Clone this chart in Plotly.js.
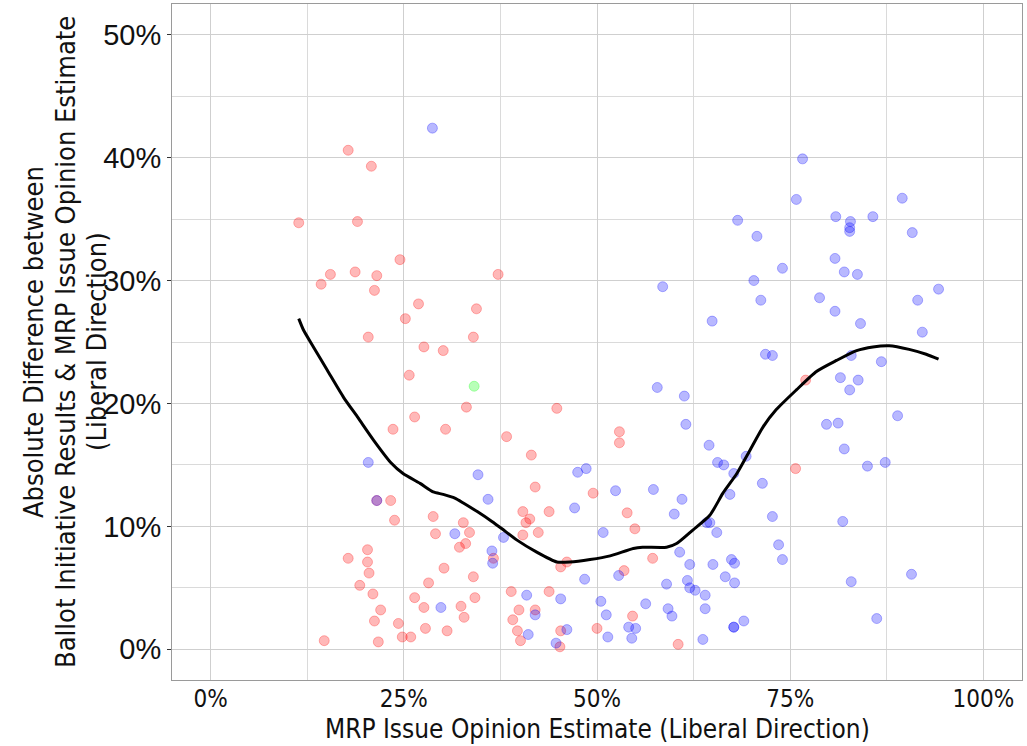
<!DOCTYPE html>
<html>
<head>
<meta charset="utf-8">
<script src="https://cdn.plot.ly/plotly-3.0.1.min.js"></script>
<style>html,body{margin:0;padding:0;background:#fff;}#chart{width:1027px;height:746px;}</style>
</head>
<body>
<div id="chart"></div>
<script>
// Red (conservative-direction) initiatives
const redX = [0.114,0.178,0.208,0.190,0.155,0.143,0.187,0.215,0.245,0.212,0.269,0.252,0.204,0.276,0.301,0.372,0.344,0.340,0.257,0.331,0.448,0.264,0.236,0.304,0.383,0.415,0.420,0.495,0.215,0.233,0.238,0.404,0.438,0.413,0.408,0.288,0.327,0.335,0.291,0.424,0.404,0.330,0.322,0.366,0.461,0.453,0.203,0.178,0.203,0.205,0.302,0.340,0.282,0.193,0.210,0.264,0.342,0.389,0.438,0.276,0.324,0.220,0.399,0.420,0.212,0.328,0.243,0.391,0.278,0.306,0.397,0.453,0.500,0.147,0.217,0.248,0.259,0.401,0.452,0.529,0.529,0.539,0.549,0.572,0.535,0.546,0.605,0.770,0.757];
const redY = [0.347,0.406,0.393,0.348,0.305,0.297,0.307,0.304,0.317,0.292,0.281,0.269,0.254,0.246,0.243,0.305,0.277,0.254,0.223,0.197,0.196,0.189,0.179,0.179,0.173,0.158,0.132,0.127,0.121,0.121,0.105,0.112,0.112,0.106,0.103,0.108,0.103,0.095,0.094,0.095,0.093,0.086,0.083,0.074,0.071,0.067,0.081,0.074,0.071,0.062,0.066,0.059,0.054,0.052,0.045,0.042,0.042,0.047,0.047,0.034,0.035,0.032,0.032,0.032,0.023,0.026,0.021,0.024,0.017,0.015,0.015,0.015,0.017,0.007,0.006,0.010,0.010,0.007,0.002,0.177,0.168,0.111,0.098,0.074,0.064,0.027,0.004,0.219,0.147];
// Blue (liberal-direction) initiatives
const blueX = [0.287,0.204,0.215,0.346,0.359,0.475,0.486,0.471,0.316,0.379,0.364,0.365,0.484,0.409,0.453,0.298,0.420,0.411,0.461,0.447,0.508,0.524,0.505,0.512,0.528,0.514,0.541,0.550,0.545,0.563,0.573,0.578,0.585,0.590,0.592,0.597,0.600,0.607,0.610,0.613,0.615,0.617,0.620,0.620,0.627,0.637,0.640,0.640,0.642,0.646,0.645,0.649,0.650,0.655,0.656,0.664,0.666,0.672,0.674,0.677,0.677,0.677,0.678,0.678,0.682,0.690,0.693,0.703,0.707,0.712,0.714,0.718,0.727,0.727,0.735,0.740,0.740,0.758,0.766,0.788,0.797,0.808,0.808,0.809,0.812,0.815,0.818,0.820,0.820,0.827,0.827,0.827,0.828,0.829,0.829,0.837,0.838,0.841,0.850,0.857,0.862,0.868,0.873,0.889,0.895,0.907,0.908,0.915,0.921,0.942];
const blueY = [0.424,0.152,0.121,0.142,0.122,0.144,0.147,0.115,0.094,0.091,0.080,0.070,0.057,0.044,0.041,0.034,0.028,0.012,0.016,0.005,0.095,0.129,0.039,0.028,0.060,0.010,0.018,0.017,0.009,0.037,0.130,0.213,0.295,0.053,0.033,0.027,0.110,0.079,0.122,0.206,0.183,0.056,0.069,0.050,0.048,0.008,0.044,0.033,0.103,0.103,0.166,0.267,0.069,0.095,0.152,0.150,0.059,0.126,0.073,0.143,0.018,0.018,0.070,0.054,0.349,0.023,0.157,0.300,0.336,0.284,0.135,0.240,0.239,0.108,0.085,0.073,0.310,0.366,0.399,0.286,0.183,0.318,0.275,0.352,0.184,0.221,0.104,0.163,0.307,0.211,0.343,0.340,0.348,0.239,0.055,0.305,0.219,0.265,0.149,0.352,0.025,0.234,0.152,0.190,0.367,0.061,0.339,0.284,0.258,0.293];
// Green (other) initiative
const greenX = [0.341];
const greenY = [0.214];
// Smoothed trend
const smoothX = [0.114,0.120,0.133,0.151,0.172,0.190,0.211,0.233,0.249,0.271,0.288,0.301,0.316,0.327,0.345,0.364,0.377,0.396,0.422,0.448,0.465,0.491,0.517,0.547,0.559,0.590,0.603,0.624,0.646,0.663,0.681,0.698,0.715,0.732,0.758,0.784,0.810,0.836,0.857,0.878,0.904,0.926,0.942];
const smoothY = [0.269,0.260,0.246,0.227,0.205,0.189,0.170,0.152,0.143,0.135,0.128,0.126,0.123,0.119,0.112,0.104,0.098,0.089,0.079,0.071,0.071,0.073,0.076,0.082,0.083,0.083,0.086,0.097,0.109,0.127,0.143,0.162,0.181,0.195,0.211,0.226,0.235,0.243,0.246,0.247,0.244,0.240,0.236];
const xTickVals = [0,0.25,0.5,0.75,1];
const xTickText = ['0%','25%','50%','75%','100%'];
const yTickVals = [0,0.1,0.2,0.3,0.4,0.5];
const yTickText = ['0%','10%','20%','30%','40%','50%'];
const xTitle = 'MRP Issue Opinion Estimate (Liberal Direction)';
const yTitleLines = ['Absolute Difference between','Ballot Initiative Results & MRP Issue Opinion Estimate','(Liberal Direction)'];

const narrow = 'Liberation Sans Narrow, Arial Narrow, DejaVu Sans Condensed, sans-serif';
function pts(x, y, rgb) {
  return {x: x, y: y, type: 'scatter', mode: 'markers', hoverinfo: 'skip',
    marker: {size: 10, color: 'rgba(' + rgb + ',0.28)', line: {color: 'rgba(' + rgb + ',0.28)', width: 1}}};
}
const traces = [
  pts(redX, redY, '255,0,0'),
  pts(blueX, blueY, '0,0,255'),
  pts(greenX, greenY, '0,255,0'),
  {x: smoothX, y: smoothY, type: 'scatter', mode: 'lines', line: {color: '#000', width: 3, shape: 'spline', smoothing: 0.6}, hoverinfo: 'skip'}
];
const W = 1027, H = 746, ml = 172, mr = 5, mt = 4, mb = 66;
const pw = W - ml - mr, ph = H - mt - mb;
const ann = [];
const yTitleX = [33, 65, 96];
yTitleLines.forEach((t, i) => ann.push({text: t, xref: 'paper', yref: 'paper', x: (yTitleX[i] - ml) / pw, y: 0.5,
  xanchor: 'center', yanchor: 'middle', textangle: -90, showarrow: false, font: {family: narrow, size: 27, color: '#111'}}));
ann.push({text: xTitle, xref: 'paper', yref: 'paper', x: 0.5, y: (H - mb - 729) / ph, xanchor: 'center', yanchor: 'middle',
  showarrow: false, font: {family: narrow, size: 26, color: '#111'}});
const layout = {
  width: W, height: H, margin: {l: ml, r: mr, t: mt, b: mb}, showlegend: false,
  paper_bgcolor: '#fff', plot_bgcolor: '#fff',
  xaxis: {range: [-0.05, 1.05], tickvals: xTickVals, ticktext: xTickText, showgrid: true, gridcolor: '#cfcfcf', gridwidth: 1,
    minor: {tickvals: [0.125,0.375,0.625,0.875], showgrid: true, gridcolor: '#dadada', gridwidth: 1},
    zeroline: false, showline: true, mirror: true, linecolor: '#9a9a9a', linewidth: 1,
    ticks: '', ticklabelstandoff: -3, tickfont: {family: narrow, size: 24, color: '#111'}},
  yaxis: {range: [-0.025, 0.525], tickvals: yTickVals, ticktext: yTickText, showgrid: true, gridcolor: '#cfcfcf', gridwidth: 1,
    minor: {tickvals: [0.05,0.15,0.25,0.35,0.45], showgrid: true, gridcolor: '#dadada', gridwidth: 1},
    zeroline: false, showline: true, mirror: true, linecolor: '#9a9a9a', linewidth: 1,
    ticks: 'outside', ticklen: 4, tickcolor: '#333', tickfont: {family: 'Liberation Sans, Arial, sans-serif', size: 29, color: '#111'}},
  annotations: ann
};
Plotly.newPlot('chart', traces, layout, {staticPlot: true, displayModeBar: false});
</script>
</body>
</html>
